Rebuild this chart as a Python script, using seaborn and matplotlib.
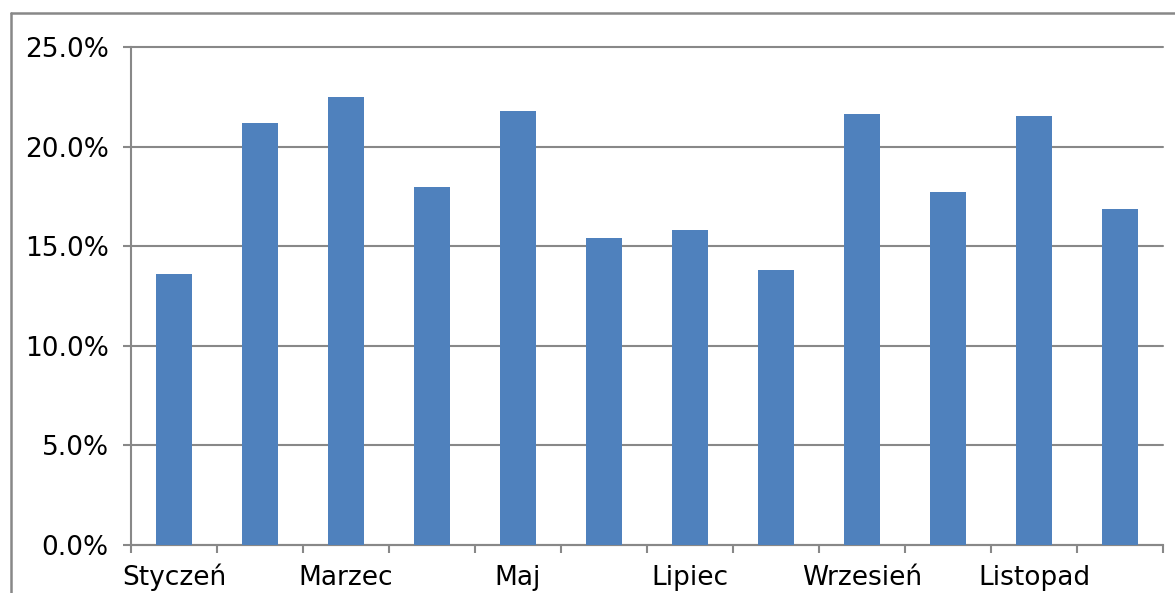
import matplotlib
matplotlib.use("Agg")
import matplotlib.pyplot as plt
from matplotlib.lines import Line2D
from matplotlib.ticker import FixedLocator, PercentFormatter
import seaborn as sns
import pandas as pd

months = ["Styczeń", "Luty", "Marzec", "Kwiecień", "Maj", "Czerwiec",
          "Lipiec", "Sierpień", "Wrzesień", "Październik", "Listopad", "Grudzień"]
shares = [13.6, 21.2, 22.5, 17.95, 21.8, 15.4, 15.8, 13.8, 21.65, 17.7, 21.55, 16.85]
y_ticks = [0, 5, 10, 15, 20, 25]

sns.set_theme(style="white")
plt.rcParams["font.family"] = ["DejaVu Sans"]

df = pd.DataFrame({"month": months, "share": shares})

fig = plt.figure(figsize=(11.75, 5.93), dpi=100)
ax = fig.add_axes([131 / 1175, 48 / 593, (1163 - 131) / 1175, (545 - 47) / 593])

grid_col = "#888888"
sns.barplot(data=df, x="month", y="share", ax=ax, color="#4F81BD",
            saturation=1, width=0.41, edgecolor="none", zorder=3)

ax.set_xlim(-0.5, len(months) - 0.5)
ax.set_ylim(0, 25)
ax.set_xlabel("")
ax.set_ylabel("")

# y axis: percentage ticks with horizontal grid
ax.yaxis.set_major_locator(FixedLocator(y_ticks))
ax.yaxis.set_major_formatter(PercentFormatter(decimals=1))
ax.yaxis.grid(True, color=grid_col, linewidth=1.5, zorder=0)
ax.set_axisbelow(True)

# x axis: tick marks at category boundaries, labels on every other month
ax.xaxis.set_major_locator(FixedLocator([i - 0.5 for i in range(len(months) + 1)]))
ax.set_xticklabels([""] * (len(months) + 1))
ax.xaxis.set_minor_locator(FixedLocator(list(range(0, len(months), 2))))
ax.set_xticklabels(months[::2], minor=True)

ax.tick_params(axis="both", which="major", direction="out", length=6, width=1.5,
               color=grid_col, labelsize=19, labelcolor="black")
ax.tick_params(axis="y", pad=10, left=True)
ax.tick_params(axis="x", which="major", bottom=True, pad=8)
ax.tick_params(axis="x", which="minor", length=0, labelsize=19, pad=28.5, labelcolor="black")
for lbl in ax.get_xticklabels(minor=True):
    lbl.set_verticalalignment("baseline")

for side in ["top", "right"]:
    ax.spines[side].set_visible(False)
for side in ["left", "bottom"]:
    ax.spines[side].set_visible(True)
    ax.spines[side].set_color(grid_col)
    ax.spines[side].set_linewidth(1.5)

fig.canvas.draw()
for gl in ax.get_ygridlines():
    gl.set_clip_on(False)

# outer chart frame
fig.add_artist(Line2D([10.5 / 1175, 10.5 / 1175], [0, 580 / 593],
                      transform=fig.transFigure, color=grid_col, linewidth=1.8))
fig.add_artist(Line2D([10.5 / 1175, 1], [580 / 593, 580 / 593],
                      transform=fig.transFigure, color=grid_col, linewidth=1.8))

fig.savefig("out.png", dpi=100)
